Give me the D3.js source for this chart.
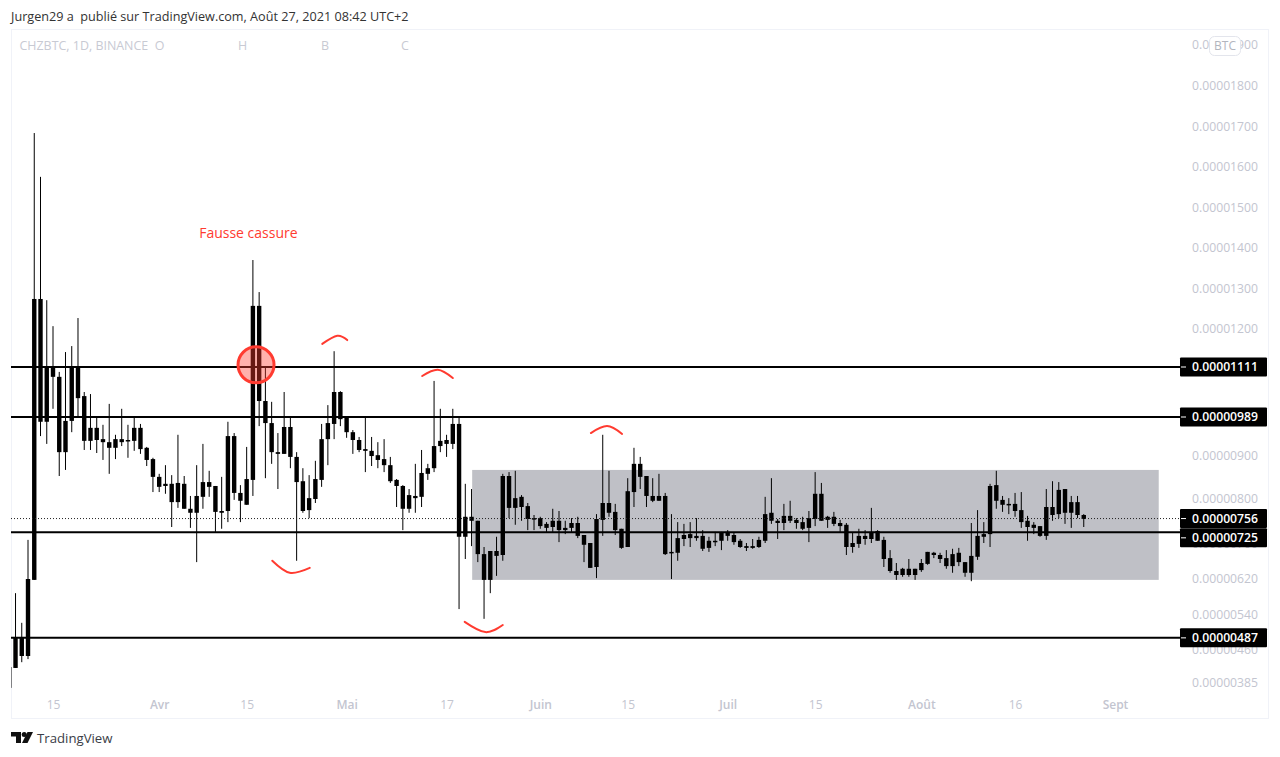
<!DOCTYPE html>
<html>
<head>
<meta charset="utf-8">
<script src="https://cdn.jsdelivr.net/npm/d3@7"></script>
<style>
html, body { margin: 0; padding: 0; background: #fff; }
svg { display: block; }
text { font-family: "Open Sans", "Noto Sans", sans-serif; }
</style>
</head>
<body>
<svg id="chart" width="1280" height="757"></svg>
<script>
// prices in satoshi (0.00000001 BTC), one candle a day from 8 March 2021
var firstDay = Date.UTC(2021, 2, 8);

var highs = [421,588,521,708,1683,1575,1271,1207,1099,1146,1160,1227,1050,1045,987,971,1021,948,1009,971,987,973,920,895,
  858,878,855,948,853,807,878,927,865,830,851,978,952,832,920,1370,1291,1111,1026,952,1050,991,908,871,855,888,973,1018,1148,1052,
  987,959,943,991,943,931,938,897,846,832,823,881,913,881,1077,1009,948,1009,987,835,823,751,692,683,715,858,862,865,809,791,764,
  760,748,778,773,751,757,760,719,701,766,948,865,789,733,848,918,897,853,848,858,814,766,748,744,748,757,730,715,726,726,
  730,724,710,701,710,715,805,848,755,789,796,757,760,773,862,837,762,771,753,746,724,733,730,780,730,715,685,656,645,665,643,
  665,681,681,679,685,688,690,658,746,775,748,835,865,807,802,814,816,762,748,739,823,841,839,823,807,807,766];
var bodyTops = [421,489,489,620,1274,1274,1109,1109,1087,980,1109,1109,1040,964,964,938,931,938,938,936,964,964,918,892,
  851,835,835,837,835,778,807,839,839,830,773,945,945,814,846,1257,1257,1028,975,908,966,966,897,841,802,846,938,975,1050,1050,
  987,954,936,915,911,901,892,878,844,830,809,807,860,871,922,934,936,973,973,760,760,751,676,683,683,853,853,802,805,784,757,
  757,744,751,751,735,746,746,719,701,755,791,791,771,733,818,881,881,853,807,807,807,681,712,719,721,717,717,706,706,724,
  726,719,706,694,694,708,766,769,751,762,762,753,748,757,812,812,760,760,746,742,701,717,717,726,728,708,667,638,643,643,643,
  656,681,679,674,667,676,679,658,672,717,721,830,832,798,789,789,775,751,742,739,782,782,821,823,793,793,764];
var bodyBottoms = [374,419,446,446,618,978,978,1087,908,908,980,1035,934,934,936,931,918,918,931,934,934,915,890,851,
  828,830,793,793,778,769,769,805,828,771,769,773,814,796,787,844,1028,975,908,904,904,897,839,773,775,800,844,938,973,984,
  954,936,913,911,899,890,878,841,830,778,778,802,805,858,871,922,927,927,715,715,751,676,618,618,672,674,780,780,782,755,755,
  739,735,737,730,730,735,717,697,645,647,753,769,730,690,692,816,851,807,796,796,676,679,679,710,712,712,688,690,703,706,
  717,703,692,690,690,692,706,751,746,746,751,746,733,735,755,751,753,744,739,692,692,699,710,710,706,665,638,629,629,629,629,
  640,654,674,665,649,649,658,634,634,670,715,721,796,787,787,773,748,737,735,717,717,764,766,769,769,764,755];
var lows = [374,419,432,439,618,945,927,1009,853,867,954,991,913,913,906,890,858,892,922,895,911,904,876,816,
  816,812,737,780,778,735,658,778,805,726,733,748,798,748,787,807,968,848,881,823,904,871,661,769,757,791,828,878,938,968,
  941,904,908,862,876,871,862,837,782,730,769,769,782,844,862,908,897,915,552,665,694,658,530,588,627,661,757,742,751,730,730,
  733,726,726,703,721,726,712,658,645,622,717,760,719,688,692,782,823,782,793,796,674,620,661,694,692,706,683,681,694,685,
  706,697,690,683,688,690,701,744,710,730,746,733,730,703,739,751,735,739,726,674,679,690,697,701,706,647,634,618,625,625,618,
  636,652,667,656,643,634,649,625,615,663,701,692,778,771,766,760,735,706,721,715,708,751,757,744,735,757,737];

// drawn price levels and their tags on the axis
var levels = [1111, 989, 725, 487];
var lastPrice = 756;
var priceTicks = [1900,1800,1700,1600,1500,1400,1300,1200,900,800,700,620,540,460,385];

var timeTicks = [Date.UTC(2021,2,15), Date.UTC(2021,3,1), Date.UTC(2021,3,15), Date.UTC(2021,4,1), Date.UTC(2021,4,17),
  Date.UTC(2021,5,1), Date.UTC(2021,5,15), Date.UTC(2021,6,1), Date.UTC(2021,6,15), Date.UTC(2021,7,1), Date.UTC(2021,7,16), Date.UTC(2021,8,1)];
var timeLabels = ["15","Avr","15","Mai","17","Juin","15","Juil","15","Août","16","Sept"];

// hand drawn marks, as [candle index, price]
var arcs = [
  [[50.1,1165],[52.5,1184],[54.1,1174]],
  [[66.1,1089],[68.6,1104],[71,1084]],
  [[93.1,952],[95.7,968],[98.1,950]],
  [[72.9,523],[76.2,500],[79,516]],
  [[42.1,661],[44.9,634],[48.1,645]]
];
var falseBreak = [39.5, 1116];
var noteSpot = [30.4, 1433];
var rangeBox = {from: 74.1, to: 184, top: 867, bottom: 618};

var RED = "#ff3b30";
var TICK = "#c3c5d0";

function dayAt(i) { return new Date(firstDay + i * 864e5); }

// the price axis of the picture is not quite linear, so it goes through a few knots
var y = d3.scaleLinear()
  .domain([385, 620, 800, 989, 1111, 1200, 1900])
  .range([683, 579, 499, 417, 367, 329, 45]);
var x = d3.scaleUtc()
  .domain([Date.UTC(2021,2,15), Date.UTC(2021,8,1)])
  .range([53, 1115]);

var svg = d3.select("#chart");
svg.append("rect").attr("x", 11.5).attr("y", 29.5).attr("width", 1257).attr("height", 689)
  .attr("fill", "#fff").attr("stroke", "#f0f2f8");
svg.append("defs").append("clipPath").attr("id", "pane")
  .append("rect").attr("x", 11).attr("y", 30).attr("width", 1169).attr("height", 688);

var pane = svg.append("g").attr("clip-path", "url(#pane)");

pane.append("rect")
  .attr("x", x(dayAt(rangeBox.from)))
  .attr("y", y(rangeBox.top))
  .attr("width", x(dayAt(rangeBox.to)) - x(dayAt(rangeBox.from)))
  .attr("height", y(rangeBox.bottom) - y(rangeBox.top))
  .attr("fill", "#bfc0c6");

// candles
var candles = pane.selectAll("g.candle").data(highs).enter().append("g").attr("class", "candle");
candles.append("line")
  .attr("x1", function (d, i) { return x(dayAt(i)); })
  .attr("x2", function (d, i) { return x(dayAt(i)); })
  .attr("y1", function (d) { return y(d); })
  .attr("y2", function (d, i) { return y(lows[i]); })
  .attr("stroke", "#000").attr("stroke-width", 1);
candles.append("rect")
  .attr("x", function (d, i) { return x(dayAt(i)) - 2.2; })
  .attr("width", 4.4)
  .attr("y", function (d, i) { return y(bodyTops[i]); })
  .attr("height", function (d, i) { return Math.max(1.5, y(bodyBottoms[i]) - y(bodyTops[i])); })
  .attr("fill", "#000");

// price levels
pane.selectAll("line.level").data(levels).enter().append("line")
  .attr("class", "level")
  .attr("x1", 11).attr("x2", 1180)
  .attr("y1", function (d) { return y(d); })
  .attr("y2", function (d) { return y(d); })
  .attr("stroke", "#000").attr("stroke-width", 2);
pane.append("line")
  .attr("x1", 11).attr("x2", 1180)
  .attr("y1", y(lastPrice)).attr("y2", y(lastPrice))
  .attr("stroke", "#222").attr("stroke-width", 1).attr("stroke-dasharray", "1 2");

// annotations
var arcLine = d3.line()
  .x(function (d) { return x(dayAt(d[0])); })
  .y(function (d) { return y(d[1]); })
  .curve(d3.curveNatural);
pane.selectAll("path.arc").data(arcs).enter().append("path")
  .attr("class", "arc")
  .attr("d", arcLine)
  .attr("fill", "none").attr("stroke", RED).attr("stroke-width", 2).attr("stroke-linecap", "round");
pane.append("circle")
  .attr("cx", x(dayAt(falseBreak[0]))).attr("cy", y(falseBreak[1])).attr("r", 18)
  .attr("fill", RED).attr("fill-opacity", 0.4)
  .attr("stroke", RED).attr("stroke-width", 3);
pane.append("text")
  .attr("x", x(dayAt(noteSpot[0]))).attr("y", y(noteSpot[1]))
  .attr("dominant-baseline", "middle")
  .attr("fill", RED).attr("font-size", 14).text("Fausse cassure");

// axes
var priceAxis = d3.axisRight(y)
  .tickValues(priceTicks)
  .tickSize(0)
  .tickFormat(function (d) { return d3.format(".8f")(d * 1e-8); });
var gy = svg.append("g").attr("transform", "translate(1258,0)").call(priceAxis);
gy.select(".domain").remove();
gy.selectAll("text").attr("x", 0).attr("text-anchor", "end").attr("fill", TICK).attr("font-size", 12.2).style("font-family", null);

var timeAxis = d3.axisBottom(x)
  .tickValues(timeTicks)
  .tickSize(0)
  .tickFormat(function (d, i) { return timeLabels[i]; });
var gx = svg.append("g").attr("transform", "translate(0,697)").call(timeAxis);
gx.select(".domain").remove();
gx.selectAll("text").attr("fill", TICK).attr("font-size", 12).attr("font-weight", function (d, i) {
  return timeLabels[i].length > 2 ? 600 : 400;
}).style("font-family", null);

// tags on the price axis, 725 is pushed down by the last price tag above it
var tags = levels.concat([lastPrice]);
var tag = svg.selectAll("g.tag").data(tags).enter().append("g")
  .attr("class", "tag")
  .attr("transform", function (d) { return "translate(1180," + (y(d) + (d === 725 ? 5.5 : 0)) + ")"; });
tag.append("rect").attr("x", 0).attr("y", -9.5).attr("width", 87).attr("height", 19).attr("rx", 1).attr("fill", "#000");
tag.append("line").attr("x1", 1).attr("x2", 6).attr("y1", 0).attr("y2", 0).attr("stroke", "#fff");
tag.append("text").attr("x", 78).attr("y", 0).attr("dy", "0.35em").attr("text-anchor", "end")
  .attr("fill", "#fff").attr("font-size", 12.2).attr("font-weight", 600)
  .text(function (d) { return d3.format(".8f")(d * 1e-8); });

// currency badge
svg.append("rect").attr("x", 1209.5).attr("y", 36.5).attr("width", 31).attr("height", 19).attr("rx", 5)
  .attr("fill", "#fff").attr("stroke", "#e3e5ec");
svg.append("text").attr("x", 1225).attr("y", 50).attr("text-anchor", "middle")
  .attr("fill", "#b2b5be").attr("font-size", 12).text("BTC");

// header and legend
svg.append("text").attr("x", 11).attr("y", 21).attr("fill", "#333").attr("font-size", 12.65)
  .attr("xml:space", "preserve").text("Jurgen29 a  publié sur TradingView.com, Août 27, 2021 08:42 UTC+2");
svg.append("text").attr("x", 19.5).attr("y", 50).attr("fill", "#c8cad3").attr("font-size", 12.45)
  .attr("xml:space", "preserve").text("CHZBTC, 1D, BINANCE  O");
svg.append("text").attr("x", 238).attr("y", 50).attr("fill", "#c8cad3").attr("font-size", 12.45).text("H");
svg.append("text").attr("x", 321).attr("y", 50).attr("fill", "#c8cad3").attr("font-size", 12.45).text("B");
svg.append("text").attr("x", 401).attr("y", 50).attr("fill", "#c8cad3").attr("font-size", 12.45).text("C");

// logo
var logo = svg.append("g").attr("transform", "translate(11,732)").attr("fill", "#111");
logo.append("path").attr("d", "M0 0H10V11H5V4.5H0Z");
logo.append("circle").attr("cx", 13.2).attr("cy", 2.6).attr("r", 2.5);
logo.append("path").attr("d", "M16.5 0H22L16.5 11H11Z");
svg.append("text").attr("x", 37).attr("y", 743).attr("fill", "#3a3d46").attr("font-size", 13.2).text("TradingView");
</script>
</body>
</html>
